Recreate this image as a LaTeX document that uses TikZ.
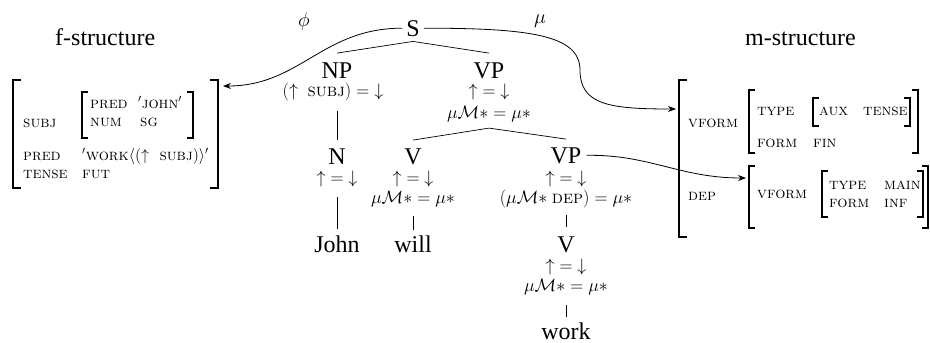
\RequirePackage{fix-cm}
\documentclass[tikz,border=0pt]{standalone}
\usepackage[no-math]{fontspec}
\setmainfont{Liberation Serif}
\usetikzlibrary{arrows.meta}
\newcommand\fsc[1]{{\fontfamily{lmr}\selectfont\scshape #1}}
\newcommand\upeqdown{${\uparrow} = {\downarrow}$}
\newcommand\mueq{$\mu\mathcal{M}{*} = \mu{*}$}
\begin{document}
\begin{tikzpicture}[x=1pt,y=-1pt,
  cat/.style={font={\fontsize{24}{28}\selectfont}, inner sep=0pt, anchor=base},
  ann/.style={font={\fontsize{18}{20}\selectfont}, inner sep=0pt},
  maplabel/.style={font={\fontsize{20}{22}\selectfont}, inner sep=0pt},
  avm/.style={font={\fontsize{16}{18}\selectfont\fontfamily{lmr}\selectfont\scshape}, inner sep=0pt, anchor=base west},
  title/.style={font={\fontsize{24}{28}\selectfont}, inner sep=0pt, anchor=base west},
  branch/.style={line width=0.7pt},
  brk/.style={line width=1.3pt},
  maparrow/.style={line width=0.8pt, -{Stealth[length=8pt,width=6pt]}},
]
\useasboundingbox (0,0) rectangle (930,343);

% titles
\node[title] (ftitle) at (55,45) {f-structure};
\node[title] (mtitle) at (745,45) {m-structure};

% f-structure
\node[avm] (fsubj) at (23,127) {subj};
\node[avm] (fpred1) at (90,108) {pred};
\node[avm] (fjohn) at (138,108) {${}'$john${}'$};
\node[avm] (fnum) at (90,126) {num};
\node[avm] (fsg) at (140,126) {sg};
\node[avm] (fpred2) at (23,160) {pred};
\node[avm] (fwork) at (82,160) {${}'$work$\langle({\uparrow}\;$ subj$)\rangle'$};
\node[avm] (ftense) at (23,178) {tense};
\node[avm] (ffut) at (82,178) {fut};
\draw[brk] (21,80) -| (13,188) -- (21,188);
\draw[brk] (210,80) -| (218,188) -- (210,188);
\draw[brk] (88,92) -| (82,138) -- (88,138);
\draw[brk] (187,92) -| (193,138) -- (187,138);

% m-structure
\node[avm] (mvform) at (688,127) {vform};
\node[avm] (mtype) at (757,115) {type};
\node[avm] (maux) at (819,115) {aux};
\node[avm] (mtense) at (863,115) {tense};
\node[avm] (mform) at (757,147) {form};
\node[avm] (mfin) at (813,147) {fin};
\node[avm] (mdep) at (688,200) {dep};
\node[avm] (mvform2) at (757,198) {vform};
\node[avm] (mtype2) at (829,189) {type};
\node[avm] (mmain) at (884,189) {main};
\node[avm] (mform2) at (829,207) {form};
\node[avm] (minf) at (884,207) {inf};
\draw[brk] (687,80) -| (679,237) -- (687,237);
\draw[brk] (755,90) -| (749,153) -- (755,153);
\draw[brk] (912,90) -| (918,153) -- (912,153);
\draw[brk] (819,98) -| (813,126) -- (819,126);
\draw[brk] (904,98) -| (910,126) -- (904,126);
\draw[brk] (755,166) -| (749,228) -- (755,228);
\draw[brk] (922,166) -| (928,228) -- (922,228);
\draw[brk] (828,171) -| (822,217) -- (828,217);
\draw[brk] (917,171) -| (923,217) -- (917,217);

% tree
\node[cat] (S) at (413,36) {S};
\node[cat] (NP) at (337,78) {NP};
\node[cat] (VP) at (489,78) {VP};
\node[ann] (npa) at (333,92) {$({\uparrow}\ \;\mbox{\fsc{subj}}) = {\downarrow}$};
\node[ann] (vpa1) at (489,92) {\upeqdown};
\node[ann] (vpa2) at (489,114) {\mueq};
\node[cat] (N) at (337,164) {N};
\node[cat] (V) at (413,164) {V};
\node[cat] (VP2) at (566,163) {VP};
\node[ann] (na) at (337,179) {\upeqdown};
\node[ann] (va1) at (413,179) {\upeqdown};
\node[ann] (va2) at (413,199) {\mueq};
\node[ann] (vp2a1) at (566,179) {\upeqdown};
\node[ann] (vp2a2) at (566,199) {$(\mu\mathcal{M}{*}\ \mbox{\fsc{dep}}) = \mu{*}$};
\node[cat] (John) at (337,252) {John};
\node[cat] (will) at (413,252) {will};
\node[cat] (Vw) at (566,252) {V};
\node[ann] (wa1) at (566,267) {\upeqdown};
\node[ann] (wa2) at (566,287) {\mueq};
\node[cat] (work) at (566,339) {work};

\draw[branch] ([yshift=-5pt]S.south) -- ([yshift=9pt]NP.north);
\draw[branch] ([yshift=-5pt]S.south) -- ([yshift=9pt]VP.north);
\draw[branch] ([xshift=4pt,yshift=-10pt]npa.south) -- ([yshift=8pt]N.north);
\draw[branch] ([yshift=-6pt]vpa2.south) -- ([yshift=8pt]V.north);
\draw[branch] ([yshift=-6pt]vpa2.south) -- ([yshift=8pt]VP2.north);
\draw[branch] ([yshift=-10pt]na.south) -- ([yshift=6pt]John.north);
\draw[branch] ([yshift=-9pt]va2.south) -- ([yshift=5pt]will.north);
\draw[branch] ([yshift=-7pt]vp2a2.south) -- ([yshift=9pt]Vw.north);
\draw[branch] ([yshift=-10pt]wa2.south) -- ([yshift=5pt]work.north);

% mapping arrows
\coordinate (fS) at (223,86);
\coordinate (mS) at (676,109);
\coordinate (dS) at (746,178);
\coordinate (mbend) at (580,70);
\draw[maparrow] ([xshift=-4pt]S.west) .. controls +(-80,0) and +(77,0) .. (fS);
\draw[maparrow] ([xshift=4pt]S.east) .. controls +(106,0) and +(0,-35) .. (mbend)
   .. controls +(0,35) and +(-66,0) .. (mS);
\draw[maparrow] ([xshift=5pt]VP2.east) .. controls +(63,-1) and +(-66,0) .. (dS);
\node[maplabel] (phi) at (304,21) {$\phi$};
\node[maplabel] (mu) at (540,21) {$\mu$};
\end{tikzpicture}
\end{document}
